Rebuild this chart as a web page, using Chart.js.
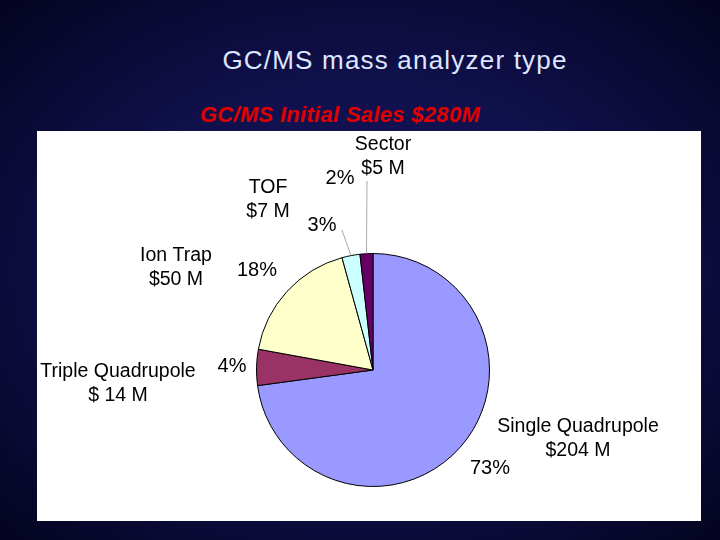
<!DOCTYPE html>
<html><head><meta charset="utf-8">
<script src="https://cdn.jsdelivr.net/npm/chart.js@4"></script>
<style>
html,body{margin:0;padding:0;width:720px;height:540px;overflow:hidden}
body{background:radial-gradient(ellipse at 50% 50%,#181866 0%,#0f0f48 55%,#040420 100%);font-family:"Liberation Sans",Arial,sans-serif;position:relative}
#t{position:absolute;left:0;width:790px;top:45px;text-align:center;color:#dfe6ff;font-size:26px;letter-spacing:1.2px}
#s{position:absolute;left:0;width:680px;top:102px;text-align:center;color:#e00000;font-size:22px;font-weight:bold;font-style:italic;letter-spacing:0.3px}
#box{position:absolute;left:37px;top:131px;width:664px;height:390px;background:#fff}
#c{position:absolute;left:0;top:0}
</style></head><body>
<div id="t">GC/MS mass analyzer type</div>
<div id="s">GC/MS Initial Sales $280M</div>
<div id="box"></div>
<canvas id="c" width="720" height="540"></canvas>
<script>
const categories=["Single Quadrupole","Triple Quadrupole","Ion Trap","TOF","Sector"];
const values=[204,14,50,7,5];
const amountLabels=["$204 M","$ 14 M","$50 M","$7 M","$5 M"];
const percentLabels=["73%","4%","18%","3%","2%"];
const colors=["#9999ff","#993366","#ffffcc","#ccffff","#660066"];
const nameLines=[["Single Quadrupole"],["Triple Quadrupole"],["Ion Trap"],["TOF"],["Sector"]];
const namePos=[[578,427],[118,372],[176,256],[268,188],[383,145]];
const pctPos=[[490,468],[232,366],[257,270],[322,225],[340,178]];
const labelPlugin={id:'lbl',afterDraw(ch){
  const ctx=ch.ctx;const meta=ch.getDatasetMeta(0);
  ctx.save();ctx.textAlign='center';ctx.textBaseline='middle';ctx.fillStyle='#000';
  meta.data.forEach((a,i)=>{
    const [nx,ny]=namePos[i];
    ctx.font='19.5px "Liberation Sans",Arial';
    ctx.fillText(nameLines[i][0],nx,ny);ctx.fillText(amountLabels[i],nx,ny+24);
    ctx.font='20px "Liberation Sans",Arial';
    ctx.fillText(percentLabels[i],pctPos[i][0],pctPos[i][1]);
    if(i>=3){const m=(a.startAngle+a.endAngle)/2;
      const x0=a.x+Math.cos(m)*a.outerRadius,y0=a.y+Math.sin(m)*a.outerRadius;
      ctx.strokeStyle='#aaa';ctx.lineWidth=1;ctx.beginPath();ctx.moveTo(x0,y0);
      if(i==4)ctx.lineTo(nx-16,ny+36);else ctx.lineTo(pctPos[i][0]+20,pctPos[i][1]+5);
      ctx.stroke();}
  });
  ctx.restore();}};
new Chart(document.getElementById('c'),{type:'pie',
 data:{labels:categories,datasets:[{data:values,backgroundColor:colors,borderColor:'#000',borderWidth:1}]},
 options:{responsive:false,animation:false,
  layout:{padding:{left:256,right:230,top:253,bottom:53}},
  plugins:{legend:{display:false},tooltip:{enabled:false}}},
 plugins:[labelPlugin]});
</script></body></html>
